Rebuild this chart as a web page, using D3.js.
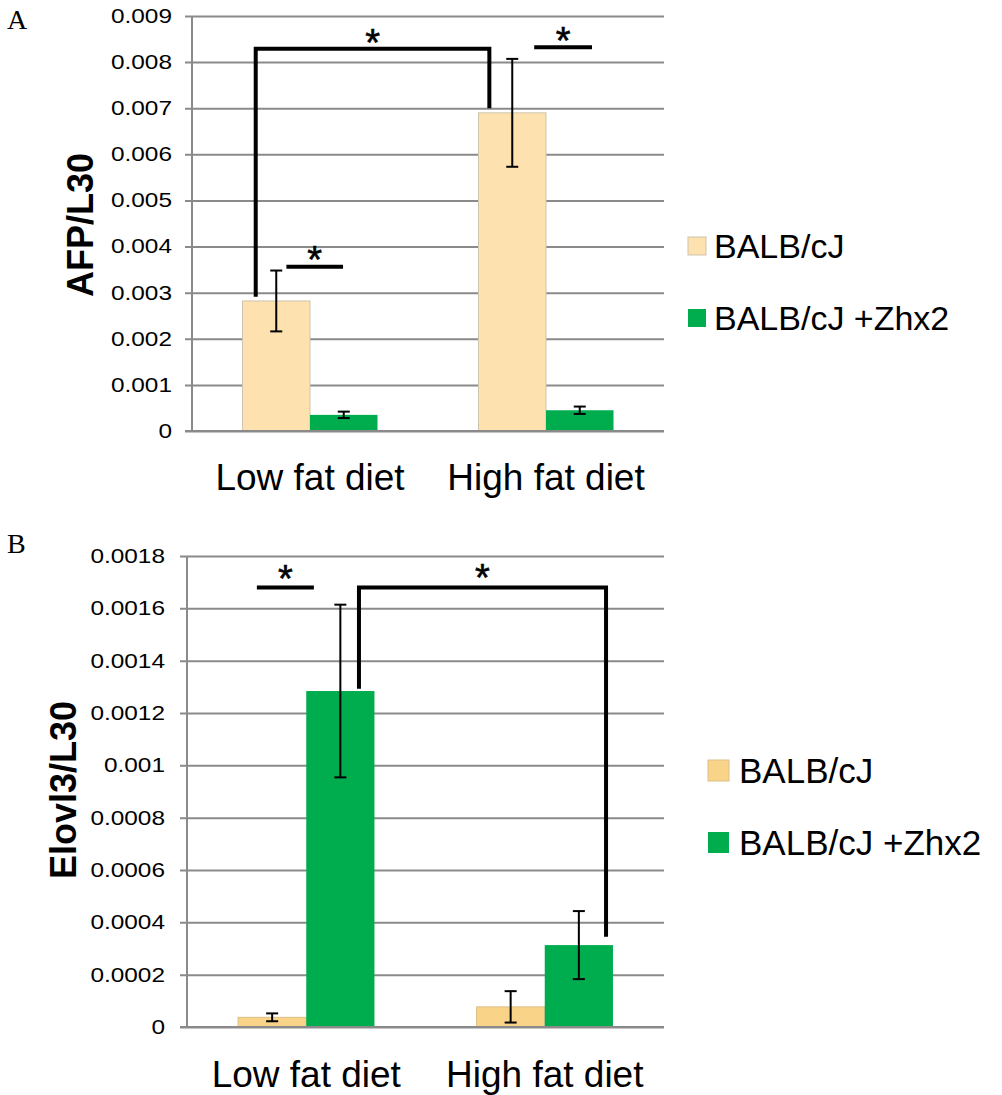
<!DOCTYPE html>
<html>
<head>
<meta charset="utf-8">
<script src="https://cdn.jsdelivr.net/npm/d3@7"></script>
<style>
  html, body { margin: 0; padding: 0; background: #ffffff; }
  svg { display: block; }
  text { fill: #000; }
</style>
</head>
<body>
<svg id="fig" width="1002" height="1095"></svg>
<script>
// ---- data ----
const categories = ["Low fat diet", "High fat diet"];
const seriesNames = ["BALB/cJ", "BALB/cJ +Zhx2"];

// Panel A: AFP / L30
const afpBalb = [0.00282, 0.00690];
const afpBalbErr = [0.00066, 0.00117];
const afpZhx2 = [0.00035, 0.00045];
const afpZhx2Err = [0.00007, 0.00008];
const afpTicks = [0, 0.001, 0.002, 0.003, 0.004, 0.005, 0.006, 0.007, 0.008, 0.009];
const afpTickLabels = ["0", "0.001", "0.002", "0.003", "0.004", "0.005", "0.006", "0.007", "0.008", "0.009"];

// Panel B: Elovl3 / L30
const elovlBalb = [0.000037, 0.000077];
const elovlBalbErr = [0.000015, 0.00006];
const elovlZhx2 = [0.001284, 0.000313];
const elovlZhx2Err = [0.00033, 0.00013];
const elovlTicks = [0, 0.0002, 0.0004, 0.0006, 0.0008, 0.001, 0.0012, 0.0014, 0.0016, 0.0018];
const elovlTickLabels = ["0", "0.0002", "0.0004", "0.0006", "0.0008", "0.001", "0.0012", "0.0014", "0.0016", "0.0018"];

// Significance brackets: legs given as [category index, fraction across band, value]
const afpBrackets = [
  { pts: [[0, 0.27, 0.00291], [0, 0.27, 0.00829], [1, 0.26, 0.00829], [1, 0.26, 0.00700]], star: 0.00862 },
  { pts: [[0, 0.40, 0.00356], [0, 0.64, 0.00356]], star: 0.00390 },
  { pts: [[1, 0.45, 0.00832], [1, 0.695, 0.00832]], star: 0.00866 }
];
const elovlBrackets = [
  { pts: [[0, 0.293, 0.00168], [0, 0.532, 0.00168]], star: 0.001745 },
  { pts: [[0, 0.721, 0.001293], [0, 0.721, 0.00168], [1, 0.757, 0.00168], [1, 0.757, 0.000345]], star: 0.00175 }
];

const SANS = '"Liberation Sans", Arial, sans-serif';
const SERIF = '"Liberation Serif", "Times New Roman", serif';

const panels = [
  {
    letter: "A", yLabel: "AFP/L30",
    left: 192, right: 664, top: 16, bottom: 431,
    domain: [0, 0.009], ticks: afpTicks, tickLabels: afpTickLabels,
    values: [afpBalb, afpZhx2], errors: [afpBalbErr, afpZhx2Err],
    colors: ["#fde1ae", "#00ad4e"], strokes: ["#cfc3ad", "none"],
    brackets: afpBrackets,
    letterPos: [7, 29], yLabelPos: [93, 225], catBaseline: 490,
    legend: { x: 688, y: [237, 309], size: 18, textX: 714, baselines: [258, 330], font: 34 },
    tickPad: 13
  },
  {
    letter: "B", yLabel: "Elovl3/L30",
    left: 187, right: 664, top: 556, bottom: 1027,
    domain: [0, 0.0018], ticks: elovlTicks, tickLabels: elovlTickLabels,
    values: [elovlBalb, elovlZhx2], errors: [elovlBalbErr, elovlZhx2Err],
    colors: ["#f9d388", "#00ad4e"], strokes: ["#dcc08a", "none"],
    brackets: elovlBrackets,
    letterPos: [7, 553], yLabelPos: [76, 790], catBaseline: 1087,
    legend: { x: 708, y: [760, 832], size: 21, textX: 739, baselines: [783, 855], font: 35 },
    tickPad: 15
  }
];

const svg = d3.select("#fig");

panels.forEach(p => {
  const g = svg.append("g").style("font-family", SANS);
  const width = p.right - p.left;

  const x = d3.scaleBand().domain(d3.range(categories.length))
    .range([p.left, p.right]).paddingInner(0.428).paddingOuter(0.214);
  const step = x.step();
  const bandStart = i => p.left + i * step;
  const xs = d3.scaleBand().domain(d3.range(seriesNames.length)).range([0, x.bandwidth()]);
  const y = d3.scaleLinear().domain(p.domain).range([p.bottom, p.top]);

  // gridlines + tick labels
  const axis = d3.axisLeft(y).tickValues(p.ticks)
    .tickFormat((d, i) => p.tickLabels[i])
    .tickSize(width + 7).tickPadding(p.tickPad);
  const ag = g.append("g").attr("transform", `translate(${p.right},0)`).call(axis);
  ag.attr("font-family", null).attr("font-size", null);
  ag.select(".domain").remove();
  ag.selectAll(".tick line").attr("stroke", "#8a8a8a").attr("stroke-width", 2);
  ag.selectAll(".tick text")
    .style("font-family", SANS).style("font-size", "20px").attr("fill", "#000")
    .each(function () {
      const t = d3.select(this);
      const tx = +t.attr("x");
      t.attr("x", 0).attr("transform", `translate(${tx},0) scale(1.22,1)`);
    });

  // vertical axis line
  g.append("line").attr("x1", p.left).attr("x2", p.left)
    .attr("y1", y(p.domain[1])).attr("y2", p.bottom)
    .attr("stroke", "#8a8a8a").attr("stroke-width", 2);

  // bars
  p.values.forEach((vals, s) => {
    g.selectAll(null).data(vals).join("rect")
      .attr("x", (d, i) => x(i) + xs(s))
      .attr("width", xs.bandwidth())
      .attr("y", d => y(d))
      .attr("height", d => p.bottom - y(d))
      .attr("fill", p.colors[s])
      .attr("stroke", p.strokes[s])
      .attr("stroke-width", 1);
  });
  // baseline drawn over the bar edges
  g.append("line").attr("x1", p.left - 7).attr("x2", p.right)
    .attr("y1", p.bottom).attr("y2", p.bottom)
    .attr("stroke", "#8a8a8a").attr("stroke-width", 2);

  // error bars
  p.values.forEach((vals, s) => {
    vals.forEach((v, i) => {
      const cx = x(i) + xs(s) + xs.bandwidth() / 2;
      const e = p.errors[s][i];
      const eg = g.append("g").attr("stroke", "#000").attr("stroke-width", 2);
      eg.append("line").attr("x1", cx).attr("x2", cx).attr("y1", y(v + e)).attr("y2", y(v - e));
      eg.append("line").attr("x1", cx - 6).attr("x2", cx + 6).attr("y1", y(v + e)).attr("y2", y(v + e));
      eg.append("line").attr("x1", cx - 6).attr("x2", cx + 6).attr("y1", y(v - e)).attr("y2", y(v - e));
    });
  });

  // significance brackets with stars
  const line = d3.line().x(d => bandStart(d[0]) + d[1] * step).y(d => y(d[2]));
  p.brackets.forEach(b => {
    g.append("path").attr("d", line(b.pts))
      .attr("fill", "none").attr("stroke", "#000").attr("stroke-width", 4)
      .attr("stroke-linejoin", "miter");
    const topV = d3.max(b.pts, r => r[2]);
    const top = b.pts.filter(q => q[2] === topV);
    const xa = bandStart(top[0][0]) + top[0][1] * step;
    const xb = bandStart(top[top.length - 1][0]) + top[top.length - 1][1] * step;
    g.append("text").attr("x", (xa + xb) / 2).attr("y", y(b.star) + 22)
      .attr("text-anchor", "middle").style("font-size", "38px")
      .attr("stroke", "#000").attr("stroke-width", 0.6)
      .text("*");
  });

  // category labels
  g.selectAll(null).data(categories).join("text")
    .attr("x", (d, i) => x(i) + x.bandwidth() / 2)
    .attr("y", p.catBaseline)
    .attr("text-anchor", "middle").style("font-size", "37px")
    .text(d => d);

  // y-axis title
  g.append("text")
    .attr("transform", `translate(${p.yLabelPos[0]},${p.yLabelPos[1]}) rotate(-90)`)
    .attr("text-anchor", "middle").style("font-size", "36px").style("font-weight", "bold")
    .text(p.yLabel);

  // panel letter
  g.append("text").attr("x", p.letterPos[0]).attr("y", p.letterPos[1])
    .style("font-family", SERIF).style("font-size", "28px").text(p.letter);

  // legend
  const L = p.legend;
  seriesNames.forEach((name, s) => {
    g.append("rect").attr("x", L.x).attr("y", L.y[s])
      .attr("width", L.size).attr("height", L.size)
      .attr("fill", p.colors[s]).attr("stroke", p.strokes[s]).attr("stroke-width", 1);
    g.append("text").attr("x", L.textX).attr("y", L.baselines[s])
      .style("font-size", L.font + "px").text(name);
  });
});
</script>
</body>
</html>
